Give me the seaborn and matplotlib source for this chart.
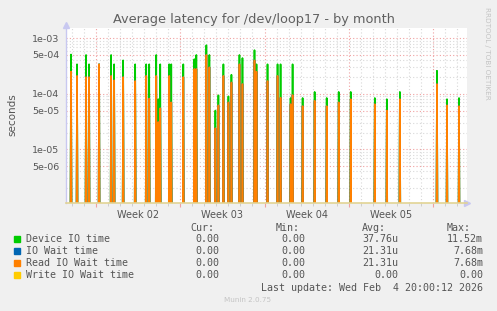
import numpy as np
import pandas as pd
import matplotlib
matplotlib.use('Agg')
import matplotlib.pyplot as plt
import matplotlib.transforms as mtransforms
from matplotlib.patches import Rectangle
from matplotlib.ticker import FixedLocator, NullFormatter
import seaborn as sns

#------------------------------------------
# spike positions in days relative to Mon Jan 5 2026 00:00 (start of Week 02)
spike_day=[-2.06, -1.56, -0.81, -0.56, 0.27, 1.21, 1.52, 2.21, 3.27, 4.14,
           4.44, 4.98, 5.17, 5.36, 6.11, 6.27, 7.27, 8.19, 8.36, 9.19,
           9.42, 9.94, 10.19, 10.61, 11.02, 11.27, 11.94, 12.19, 13.19, 13.36,
           14.27, 15.11, 15.36, 16.19, 16.36, 17.19, 18.19, 19.19, 20.19, 21.19,
           23.19, 24.17, 25.27, 28.36, 29.19, 30.19]
device_io=[5.1e-4, 3.4e-4, 5.0e-4, 3.4e-4, 3.4e-4, 5.0e-4, 3.4e-4, 4.0e-4, 3.4e-4, 3.4e-4,
           3.4e-4, 5.0e-4, 8.0e-5, 3.4e-4, 3.4e-4, 3.4e-4, 3.4e-4, 4.2e-4, 5.0e-4, 7.5e-4,
           5.0e-4, 5.0e-5, 9.4e-5, 3.4e-4, 9.0e-5, 2.2e-4, 5.0e-4, 4.4e-4, 6.1e-4, 3.4e-4,
           3.4e-4, 3.4e-4, 3.4e-4, 8.4e-5, 3.4e-4, 8.4e-5, 1.08e-4, 8.4e-5, 1.08e-4, 1.08e-4,
           8.4e-5, 8.0e-5, 1.08e-4, 2.6e-4, 8.0e-5, 8.4e-5]
read_wait=[2.5e-4, 2.1e-4, 2.0e-4, 2.0e-4, 3.4e-4, 2.1e-4, 1.75e-4, 2.0e-4, 1.7e-4, 2.1e-4,
           8.2e-5, 2.1e-4, 3.1e-5, 5.5e-5, 2.1e-4, 7.0e-5, 2.0e-4, 2.8e-4, 2.8e-4, 5.0e-4,
           3.0e-4, 2.4e-5, 6.2e-5, 2.1e-4, 7.0e-5, 1.6e-4, 3.4e-4, 1.5e-4, 4.0e-4, 2.5e-4,
           1.7e-4, 2.1e-4, 8.5e-5, 6.5e-5, 9.5e-5, 6.0e-5, 7.5e-5, 6.0e-5, 7.0e-5, 8.0e-5,
           6.5e-5, 5.0e-5, 8.0e-5, 1.5e-4, 6.2e-5, 6.0e-5]
io_wait=read_wait              # identical to read wait
write_wait=[0.0]*len(spike_day)

t_start, t_end=-2.5, 30.83     # Fri Jan 2 12:00 .. Wed Feb 4 20:00
step=1/12                      # 2h samples (monthly rrd resolution)

series=['Device IO time', 'IO Wait time', 'Read IO Wait time', 'Write IO Wait time']
colors=['#00CC00', '#0066B3', '#FF8000', '#FFCC00']

l_stats=[('0.00', '0.00', '37.76u', '11.52m'),
         ('0.00', '0.00', '21.31u', '7.68m'),
         ('0.00', '0.00', '21.31u', '7.68m'),
         ('0.00', '0.00', '0.00', '0.00')]

######################################################
t=np.arange(t_start, t_end+step/2, step)
idx=np.clip(np.round((np.array(spike_day)-t_start)/step).astype(int), 0, len(t)-1)
l_df=[]
for name, vals in zip(series, [device_io, io_wait, read_wait, write_wait]):
    v=np.zeros(len(t))
    v[idx]=vals
    l_df.append(pd.DataFrame({'day': t, 'value': v, 'series': name}))
df=pd.concat(l_df, ignore_index=True)
df['plot_value']=df['value'].where(df['value']>0, 1e-9)   # zero -> bottom of log axis

#-----------------------------------------
sns.set_style('white')
plt.rcParams['font.family']=['DejaVu Sans']
txt_c='#555555'

fig=plt.figure(figsize=(4.97, 3.11), dpi=100, facecolor='#F0F0F0')
ax=fig.add_axes([66/497, 1-203/311, (467-66)/497, (203-28)/311])
ax.set_facecolor('white')

sns.lineplot(data=df, x='day', y='plot_value', hue='series', hue_order=series,
             palette=colors, linewidth=1.2, legend=False, ax=ax, estimator=None)

ax.set_yscale('log')
ax.set_ylim(1.08e-6, 1.53e-3)
ax.set_xlim(t_start, t_end)

#y grid
maj_y=[5e-6, 1e-5, 5e-5, 1e-4, 5e-4, 1e-3]
ax.yaxis.set_major_locator(FixedLocator(maj_y))
ax.set_yticklabels(['5e-06', '1e-05', '5e-05', '1e-04', '5e-04', '1e-03'])
min_y=[m*10.0**e for e in range(-6, -2) for m in range(2, 10) if m!=5]
ax.yaxis.set_minor_locator(FixedLocator(min_y))
ax.yaxis.set_minor_formatter(NullFormatter())

#x grid
ax.xaxis.set_major_locator(FixedLocator([0, 7, 14, 21, 28]))
ax.xaxis.set_minor_locator(FixedLocator([d for d in range(-2, 31) if d%7!=0]))
ax.set_xticklabels([])
ax.set_xlabel('')
ax.set_ylabel('')

ax.grid(True, which='major', color='#F0A0A0', linestyle=(0, (1, 2)), linewidth=0.8)
ax.grid(True, which='minor', color='#D8D8D8', linestyle=(0, (1, 2)), linewidth=0.8)
ax.set_axisbelow(True)
ax.tick_params(axis='y', which='major', length=3, color='#F0A0A0', labelsize=6.8,
               labelcolor=txt_c, pad=2)
ax.tick_params(axis='y', which='minor', length=0)
ax.tick_params(axis='x', which='major', length=3, color='#F0A0A0', bottom=True)
ax.tick_params(axis='x', which='minor', length=2, color='#C8C8C8', bottom=True)

for s in ['top', 'right']:
    ax.spines[s].set_visible(False)
ax.spines['left'].set_color('#C8C8F0')
ax.spines['bottom'].set_color('#E2D494')
ax.spines['left'].set_linewidth(1)
ax.spines['bottom'].set_linewidth(1.2)
ax.plot(1.0, 0, '>', color='#C8C8F0', ms=5, transform=ax.transAxes, clip_on=False)
ax.plot(0, 1.02, '^', color='#C8C8F0', ms=5, transform=ax.transAxes, clip_on=False)

#week labels
trans=mtransforms.blended_transform_factory(ax.transData, ax.transAxes)
for k, wk in enumerate(['Week 02', 'Week 03', 'Week 04', 'Week 05']):
    ax.text(3.5+7*k, -0.04, wk, transform=trans, ha='center', va='top',
            fontsize=7, color=txt_c)

#title, y label and side text
fig.text(254/497, 1-19/311, 'Average latency for /dev/loop17 - by month',
         ha='center', va='center', fontsize=9.3, color='#606060')
fig.text(12/497, 1-115/311, 'seconds', rotation=90, ha='center', va='center',
         fontsize=7.5, color=txt_c)
fig.text(487/497, 1-53/311, 'RRDTOOL / TOBI OETIKER', rotation=270,
         ha='center', va='center', fontsize=5.2, color='#C4C4C4')

#legend
mono=dict(family='DejaVu Sans Mono', fontsize=7.2, color=txt_c)
def fy(y): return 1-y/311
for x, h in zip([190, 276, 362, 447], ['Cur:', 'Min:', 'Avg:', 'Max:']):
    fig.text(x/497, fy(228), h, ha='left', va='center', **mono)
rows=[239.3, 251.3, 263.3, 275.3]
for y, name, c, st in zip(rows, series, colors, l_stats):
    fig.add_artist(Rectangle((14/497, fy(y+3)), 6/497, 6/311, color=c,
                             transform=fig.transFigure))
    fig.text(26/497, fy(y), name, ha='left', va='center', **mono)
    for x, v in zip([219, 305, 398, 483], st):
        fig.text(x/497, fy(y), v, ha='right', va='center', **mono)
fig.text(483/497, fy(287.7), 'Last update: Wed Feb  4 20:00:12 2026',
         ha='right', va='center', **mono)
fig.text(247.5/497, fy(300), 'Munin 2.0.75', ha='center', va='center',
         fontsize=5.2, color='#C4C4C4')

plt.savefig('out.png', dpi=100, facecolor=fig.get_facecolor())
plt.close()
